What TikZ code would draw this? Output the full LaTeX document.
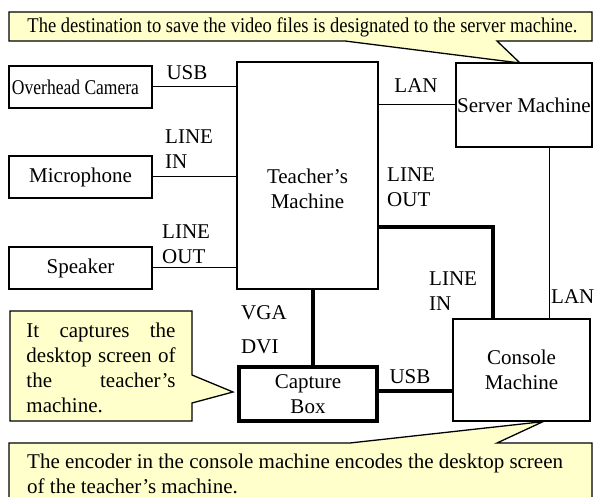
\documentclass[tikz,border=0pt]{standalone}
\usepackage{fontspec}
\setmainfont{Liberation Serif}
\usepackage{graphicx}
\usetikzlibrary{positioning}
\definecolor{noteyellow}{HTML}{FFFFCC}

\begin{document}
\begin{tikzpicture}[x=1pt,y=-1pt,
  font=\fontsize{21}{25}\selectfont,
  device/.style={draw,line width=1.3pt,inner sep=0pt,align=center},
  link/.style={line width=1pt},
  biglink/.style={line width=4pt},
  note/.style={draw,line width=1.3pt,fill=noteyellow},
  tag/.style={inner sep=0pt,align=left}]
\useasboundingbox (0,0) rectangle (595,497);

% callouts
\draw[note] (9,12) -- (592,12) -- (592,41) -- (497,41) -- (520,63) -- (345,41) -- (9,41) -- cycle;
\node (destnote) at (302.5,27) {\resizebox{550pt}{\height}{The destination to save the video files is designated to the server machine.}};

% devices
\node[device,minimum width=143pt,minimum height=42pt] (camera) at (80.5,87) {\resizebox{127pt}{\height}{Overhead Camera}\hspace{10pt}};
\node[device,minimum width=143pt,minimum height=42pt] (mic) at (80.5,177) {Microphone};
\node[device,minimum width=143pt,minimum height=42pt] (speaker) at (80.5,268) {Speaker};
\node[device,minimum width=141pt,minimum height=227pt] (teacher) at (307.5,175.5) {};
\node[align=center,inner sep=0pt] (teachertext) at (307.5,189) {Teacher's\\Machine};
\node[device,minimum width=136pt,minimum height=84pt] (server) at (524,105) {Server Machine};
\node[device,minimum width=137pt,minimum height=102pt] (console) at (521.5,370) {Console\\Machine};
\node[device,line width=4pt,minimum width=138pt,minimum height=54pt] (capture) at (308,394) {Capture\\Box};

% connections
\draw[link] (camera.east) -- (camera.east -| teacher.west);
\draw[link] (mic.east) -- (mic.east -| teacher.west);
\draw[link] (speaker.east) -- (speaker.east -| teacher.west);
\draw[link] (server.west -| teacher.east) -- (server.west);
\draw[link] ([xshift=25pt]server.south) -- ([xshift=25pt]server.south |- console.north);
\draw[biglink] ([yshift=-51.5pt]teacher.east) -| ([xshift=-28.5pt]console.north);
\draw[biglink] ([xshift=5pt]capture.north) -- ([xshift=5pt]capture.north |- teacher.south);
\draw[biglink] ([yshift=3pt]capture.east) -- ([yshift=3pt]capture.east -| console.west);

% port labels
\node[tag] (usbcam) at (187,73) {USB};
\node[tag,anchor=west] (micin) at (165,149.5) {LINE\\IN};
\node[tag,anchor=west] (spkout) at (162,244.5) {LINE\\OUT};
\node[tag] (lanserver) at (416,86) {LAN};
\node[tag,anchor=west] (teacherout) at (387,187.5) {LINE\\OUT};
\node[tag,anchor=west] (consolein) at (429,291.5) {LINE\\IN};
\node[tag,anchor=west] (lanconsole) at (551,297) {LAN};
\node[tag,anchor=west] (vga) at (241,313) {VGA};
\node[tag,anchor=west] (dvi) at (241,347) {DVI};
\node[tag] (usbcapture) at (410,377) {USB};

% notes on capture box and console
\draw[note] (10,311) -- (192,311) -- (192,375) -- ([xshift=-4pt,yshift=2pt]capture.west) -- (192,403) -- (192,421) -- (10,421) -- cycle;
\node[text width=149pt,align=justify,inner sep=0pt] (capnote) at (101,368) {It captures the\linebreak desktop screen of\linebreak the teacher's\linebreak machine.};
\draw[note] (9,443) -- (350,443) -- ([xshift=21.5pt]console.south) -- (497,443) -- (592,443) -- (592,510) -- (9,510) -- cycle;
\node[tag,anchor=west] (encnote) at (27,474) {The encoder in the console machine encodes the desktop screen\\of the teacher's machine.};
\end{tikzpicture}
\end{document}
